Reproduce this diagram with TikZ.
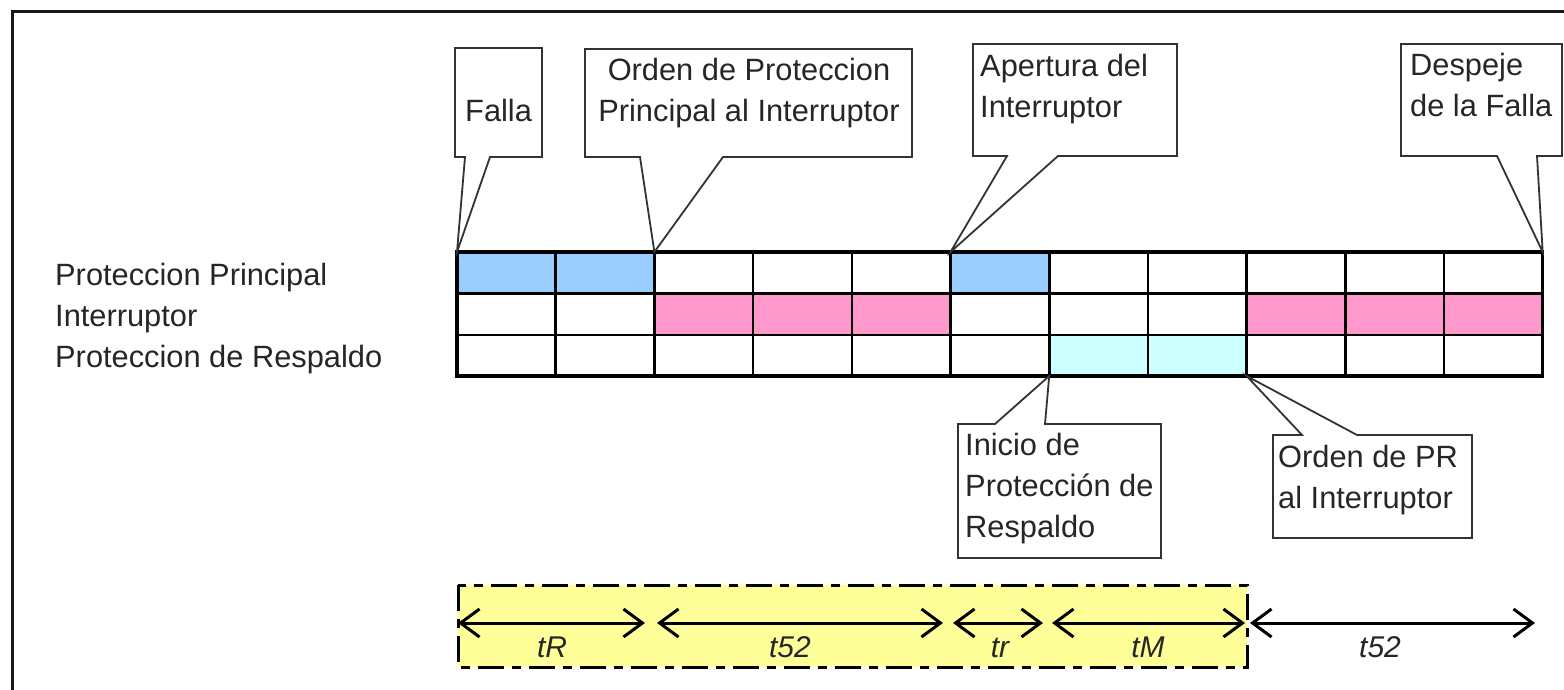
\documentclass[tikz,border=0pt]{standalone}
\usepackage{fontspec}
\setmainfont{Liberation Sans}
\usetikzlibrary{arrows.meta}
\definecolor{cblue}{HTML}{99CCFF}
\definecolor{cpink}{HTML}{FF99CC}
\definecolor{ccyan}{HTML}{CCFFFF}
\definecolor{cyell}{HTML}{FFFF99}
\definecolor{cedge}{HTML}{333333}
\begin{document}
\begin{tikzpicture}[x=1pt,y=-1pt,
  callout/.style={draw=cedge, line width=1.8pt, fill=white, line join=miter},
  lbl/.style={inner sep=0pt, font=\fontsize{30.8}{41}\selectfont, align=left, anchor=base west, text=black!85},
  tlbl/.style={inner sep=0pt, font=\fontsize{30}{34}\selectfont\itshape, anchor=base, text=black!85},
  gridline/.style={line width=2.6pt, black},
  dimarrow/.style={line width=3pt, {Straight Barb[length=19pt,width=28pt]}-{Straight Barb[length=19pt,width=28pt]}},
  yellowbox/.style={fill=cyell, draw=black, line width=3pt, dash pattern=on 26pt off 8pt on 9pt off 8pt}
]
\useasboundingbox (0,0) rectangle (1564,690);
\fill[white] (0,0) rectangle (1564,690);
% outer frame
\draw[line width=3pt, black!90] (12,690) -- (12,12) -- (1564,12);

% grid coordinates
\foreach \i in {0,...,11} {
  \coordinate (top-\i) at ({457+\i*98.7},252);
  \coordinate (bot-\i) at ({457+\i*98.7},376);
}
% fills
\foreach \c in {0,1,5}
  \fill[cblue] ({457+\c*98.7},252) rectangle ({457+(\c+1)*98.7},293.5);
\foreach \c in {2,3,4,8,9,10}
  \fill[cpink] ({457+\c*98.7},293.5) rectangle ({457+(\c+1)*98.7},335);
\foreach \c in {6,7}
  \fill[ccyan] ({457+\c*98.7},335) rectangle ({457+(\c+1)*98.7},376);
% lines
\foreach \i in {1,...,10}
  \draw[gridline] (top-\i) -- (bot-\i);
\draw[gridline] (top-0 |- 0,293.5) -- (top-11 |- 0,293.5);
\draw[gridline] (top-0 |- 0,335) -- (top-11 |- 0,335);
\draw[line width=3.4pt, black] (top-0) rectangle (bot-11);

% row labels
\node[lbl] (rowPP) at (55,285) {Proteccion Principal};
\node[lbl] (rowI) at (55,326) {Interruptor};
\node[lbl] (rowPR) at (55,367) {Proteccion de Respaldo};

% callouts
\draw[callout] (455,48) -- (542,48) -- (542,157) -- (490,157) -- (top-0) -- (465,157) -- (455,157) -- cycle;
\node[lbl] (falla) at (465,122) {Falla};

\draw[callout] (585,49) -- (912,49) -- (912,157) -- (723,157) -- (top-2) -- (640,157) -- (585,157) -- cycle;
\node[lbl, align=center, anchor=base] (ordenPP) at (749,122) {Orden de Proteccion\\Principal al Interruptor};

\draw[callout] (973,44) -- (1177,44) -- (1177,156) -- (1058,156) -- (top-5) -- (1007,156) -- (973,156) -- cycle;
\node[lbl] (apertura) at (980,118) {Apertura del\\Interruptor};

\draw[callout] (1401,44) -- (1562,44) -- (1562,156) -- (1537,156) -- (top-11) -- (1497,156) -- (1401,156) -- cycle;
\node[lbl] (despeje) at (1410,117) {Despeje\\de la Falla};

\draw[callout] (958,424) -- (995,424) -- (bot-6) -- (1045,424) -- (1161,424) -- (1161,558) -- (958,558) -- cycle;
\node[lbl] (inicio) at (965,537) {Inicio de\\Protección de\\Respaldo};

\draw[callout] (1273,435) -- (1302,435) -- (bot-8) -- (1357,435) -- (1472,435) -- (1472,538) -- (1273,538) -- cycle;
\node[lbl] (ordenPR) at (1278,508) {Orden de PR\\al Interruptor};

% time bar
\draw[yellowbox] (458,585) rectangle (1247,667);
\coordinate (a0) at (458,623);
\coordinate (a1) at (645,623);
\coordinate (b0) at (657,623);
\coordinate (b1) at (943,623);
\coordinate (c0) at (953,623);
\coordinate (c1) at (1043,623);
\coordinate (d0) at (1052,623);
\coordinate (d1) at (1245,623);
\coordinate (e0) at (1250,623);
\coordinate (e1) at (1535,623);
\draw[dimarrow] (a0) -- (a1);
\draw[dimarrow] (b0) -- (b1);
\draw[dimarrow] (c0) -- (c1);
\draw[dimarrow] (d0) -- (d1);
\draw[dimarrow] (e0) -- (e1);
\node[tlbl] (ltR) at (552,657) {tR};
\node[tlbl] (lt52a) at (790,657) {t52};
\node[tlbl] (ltr) at (1000,657) {tr};
\node[tlbl] (ltM) at (1148,657) {tM};
\node[tlbl] (lt52b) at (1380,657) {t52};
\end{tikzpicture}
\end{document}
